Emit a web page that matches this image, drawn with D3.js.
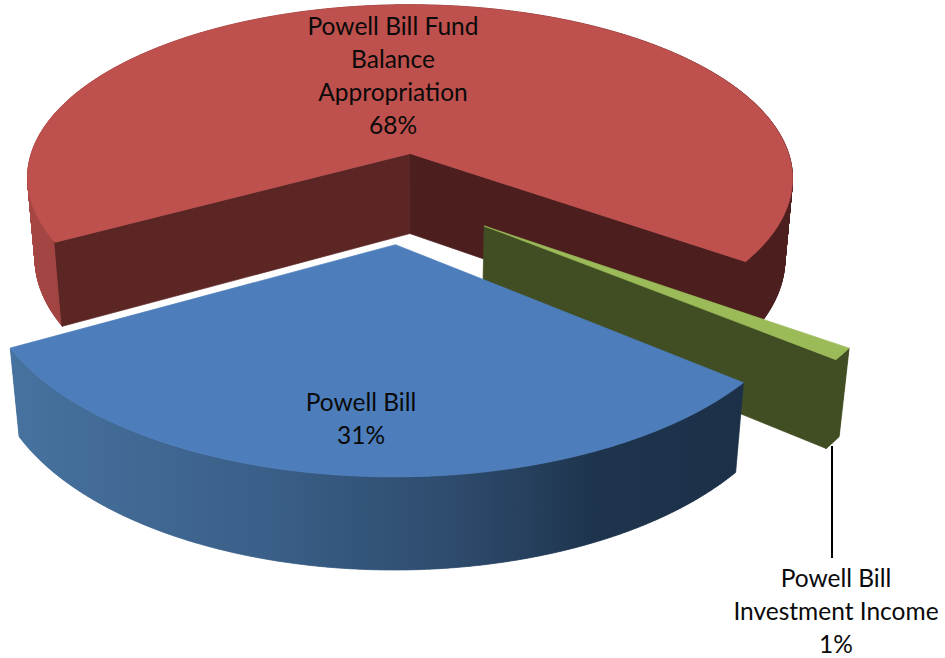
<!DOCTYPE html>
<html>
<head>
<meta charset="utf-8">
<script src="https://cdn.jsdelivr.net/npm/d3@7"></script>
<style>
html,body{margin:0;padding:0;background:#fff}
svg{display:block}
text{font-family:Lato,"Open Sans",sans-serif;fill:#0a0a0a}
</style>
</head>
<body>
<svg id="chart" width="945" height="658"></svg>
<script>
// Data
const categories = ["Powell Bill", "Powell Bill Fund Balance Appropriation", "Powell Bill Investment Income"];
const shares = [31, 68, 1];
const labelLines = [["Powell Bill", "31%"], ["Powell Bill Fund", "Balance", "Appropriation", "68%"], ["Powell Bill", "Investment Income", "1%"]];

// Styles
const topColors = ["#4d7ebb", "#be504d", "#9bbb59"];
const startWallColors = ["#1d3249", "#5c2625", "#414d22"];
const endWallColors = ["#1d3249", "#4d1e1e", "#414d22"];
const wallGradients = [
  [[0, "#47729f"], [0.35, "#3a5f88"], [0.62, "#2d4a6b"], [0.8, "#1e344d"], [1, "#1c3148"]],
  [[0, "#a54643"], [0.5, "#7a3230"], [0.85, "#4d1e1e"], [1, "#4d1e1e"]],
  [[0, "#414d22"], [1, "#414d22"]]
];

// Layout of the 3D view
const view = {cx: 404.5, cy: 197.5, rx: 392.5, ry: 182.6, persp: 0.147, depth: 83.7, zPersp: 0.0205, explode: 0.25, firstAngle: 129.3};
const labelPos = [[361, 401], [393, 25], [836, 577]];
const lineHeight = 33;
const leader = {x: 832, y1: 446, y2: 558};
const fontSize = 24.5;

const svg = d3.select("#chart");
const defs = svg.append("defs");
const start = view.firstAngle * Math.PI / 180;
const arcs = d3.pie().sort(null).startAngle(start).endAngle(start + 2 * Math.PI)(shares);

function project(u, v, z) {
  const w = 1 + view.persp * v + view.zPersp * z;
  return [view.cx + view.rx * u / w, view.cy + (-view.ry * v + view.depth * z) / w];
}
const line = d3.line();
function paintPath(d, fill, width) {
  return svg.append("path").attr("d", d).attr("fill", fill).attr("stroke", fill).attr("stroke-width", width);
}
function paint(pts, fill) {
  paintPath(line(pts) + "Z", fill, 0.7);
}
function seam(a, b, color) {
  svg.append("path").attr("d", line([a, b])).attr("fill", "none").attr("stroke", color).attr("stroke-width", 1.5);
}

const slices = arcs.map((a, i) => {
  const mid = (a.startAngle + a.endAngle) / 2;
  const ox = view.explode * Math.sin(mid), oy = view.explode * Math.cos(mid);
  const steps = Math.max(2, Math.ceil((a.endAngle - a.startAngle) * 240));
  const angles = d3.range(steps + 1).map(k => a.startAngle + (a.endAngle - a.startAngle) * k / steps);
  const rim = z => angles.map(t => project(ox + Math.sin(t), oy + Math.cos(t), z));
  return {i, apex: z => project(ox, oy, z), rim};
});

function drawSlice(s) {
  const rt = s.rim(0), rb = s.rim(1);
  const last = rt.length - 1;
  const xs = rt.concat(rb).map(p => p[0]);
  const id = "wall" + s.i;
  const grad = defs.append("linearGradient").attr("id", id).attr("gradientUnits", "userSpaceOnUse")
    .attr("x1", d3.min(xs)).attr("x2", d3.max(xs)).attr("y1", 0).attr("y2", 0);
  wallGradients[s.i].forEach(st => grad.append("stop").attr("offset", st[0]).attr("stop-color", st[1]));

  // outer wall: one ruled quad per rim step, so the silhouette follows the tangent between rims
  const quads = d3.pairs(d3.range(rt.length)).map(([p, q]) => line([rt[p], rt[q], rb[q], rb[p]]) + "Z").join("");
  paintPath(quads, "url(#" + id + ")", 0.7);

  // flat cut walls, only those that face the viewer
  const startQuad = [s.apex(0), rt[0], rb[0], s.apex(1)];
  const endQuad = [s.apex(0), rt[last], rb[last], s.apex(1)];
  if (d3.polygonArea(startQuad) > 0) {
    paint(startQuad, startWallColors[s.i]);
    seam(rt[0], rb[0], startWallColors[s.i]);
  }
  if (d3.polygonArea(endQuad) < 0) {
    paint(endQuad, endWallColors[s.i]);
    seam(rt[last], rb[last], endWallColors[s.i]);
  }

  // top face
  paint([s.apex(0)].concat(rt), topColors[s.i]);
}
[1, 2, 0].forEach(i => drawSlice(slices[i]));

// leader line
svg.append("line").attr("x1", leader.x).attr("x2", leader.x).attr("y1", leader.y1).attr("y2", leader.y2)
  .attr("stroke", "#000").attr("stroke-width", 2);

// labels
labelLines.forEach((lines, i) => {
  const t = svg.append("text").attr("font-size", fontSize).attr("text-anchor", "middle");
  lines.forEach((l, k) => {
    t.append("tspan").attr("x", labelPos[i][0]).attr("y", labelPos[i][1] + k * lineHeight)
      .attr("dominant-baseline", "central").text(l);
  });
});
</script>
</body>
</html>
